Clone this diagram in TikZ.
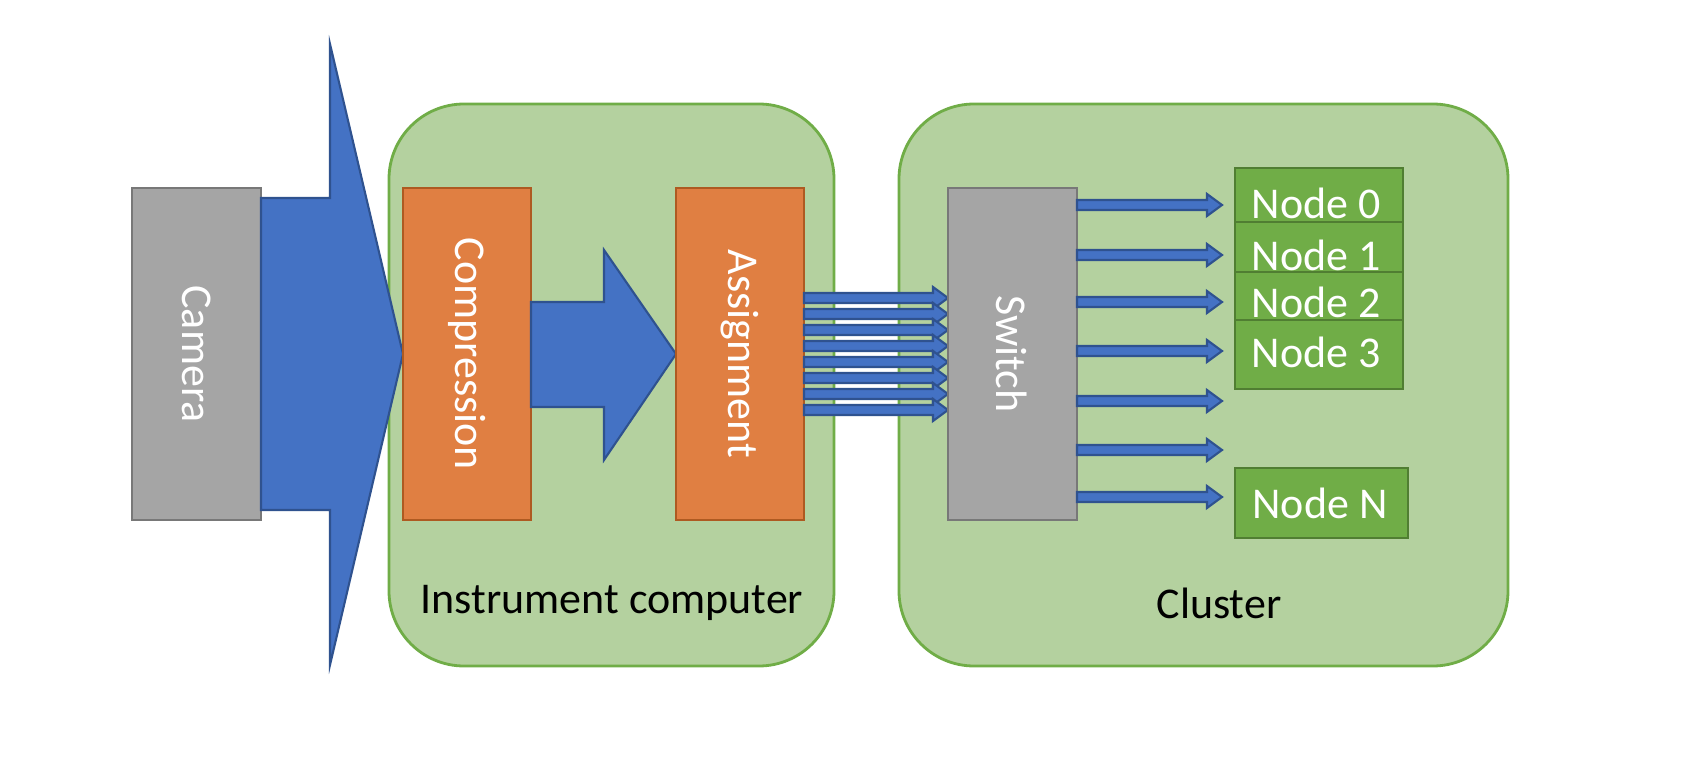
\documentclass[tikz,border=0pt]{standalone}
\usepackage{fontspec}
\setmainfont{Carlito}
\definecolor{blu}{HTML}{4472C4}
\definecolor{bluD}{HTML}{2F528F}
\definecolor{grn}{HTML}{70AD47}
\definecolor{grnD}{HTML}{507E32}
\definecolor{lg}{HTML}{B4D19F}
\definecolor{org}{HTML}{E07F42}
\definecolor{orgD}{HTML}{AE5A21}
\definecolor{gry}{HTML}{A5A5A5}
\definecolor{gryD}{HTML}{787878}
\newcommand\smarrow[3]{\filldraw[arr] (#1,#3-5)--(#2-15,#3-5)--(#2-15,#3-11)--(#2,#3)--(#2-15,#3+11)--(#2-15,#3+5)--(#1,#3+5)--cycle;}
\begin{document}
\begin{tikzpicture}[x=0.01cm,y=-0.01cm,
  arr/.style={fill=blu,draw=bluD,line width=0.6pt},
  grp/.style={draw=grn,line width=0.8pt,fill=lg,rounded corners=0.75cm},
  blk/.style={line width=0.6pt,text=white,font=\fontsize{12.5pt}{15pt}\selectfont},
  nd/.style={fill=grn,draw=grnD,line width=0.6pt,text=white,font=\fontsize{12.5pt}{15pt}\selectfont}]
\fill[white] (0,0) rectangle (1690,770);
% groups
\path[grp] (389,104) rectangle (834,666);
\node (ic) at (612,603) {\fontsize{12.5pt}{15pt}\selectfont Instrument computer};
\path[grp] (899,104) rectangle (1508,666);
\node (cl) at (1219,603) {\fontsize{12.5pt}{15pt}\selectfont Cluster};
% camera
\filldraw[fill=gry,draw=gryD,line width=0.6pt] (132,188) rectangle (261,520);
\node[blk,rotate=-90] (cam) at (196.5,354) {Camera};
% big arrow
\filldraw[arr] (261,198)--(330,198)--(330,44)--(403,354)--(330,665)--(330,510)--(261,510)--cycle;
% compression
\filldraw[fill=org,draw=orgD,line width=0.6pt] (403,188) rectangle (531,520);
\node[blk,rotate=-90] (comp) at (467,354) {Compression};
% middle arrow
\filldraw[arr] (531,302)--(604,302)--(604,250)--(676,354)--(604,460)--(604,407)--(531,407)--cycle;
% assignment
\filldraw[fill=org,draw=orgD,line width=0.6pt] (676,188) rectangle (804,520);
\node[blk,rotate=-90] (asg) at (740,354) {Assignment};
\foreach \i in {0,...,7}{\smarrow{804}{948}{298+16*\i}}
% switch
\filldraw[fill=gry,draw=gryD,line width=0.6pt] (948,188) rectangle (1077,520);
\node[blk,rotate=-90] (sw) at (1012,354) {Switch};
\foreach \y in {205,255,302,351,401,450,497}{\smarrow{1077}{1222}{\y}}
% nodes
\filldraw[nd] (1235,168) rectangle (1403,389);
\draw[grnD,line width=0.6pt] (1235,222)--(1403,222) (1235,272)--(1403,272) (1235,320)--(1403,320);
\node[nd,draw=none,fill=none] (n0) at (1316,203) {Node 0};
\node[nd,draw=none,fill=none] (n1) at (1316,255) {Node 1};
\node[nd,draw=none,fill=none] (n2) at (1316,302) {Node 2};
\node[nd,draw=none,fill=none] (n3) at (1316,352) {Node 3};
\filldraw[nd] (1235,468) rectangle (1408,538);
\node[nd,draw=none,fill=none] (nN) at (1320,503) {Node N};
\pgfresetboundingbox
\useasboundingbox (0,0) rectangle (1690,770);
\end{tikzpicture}
\end{document}
